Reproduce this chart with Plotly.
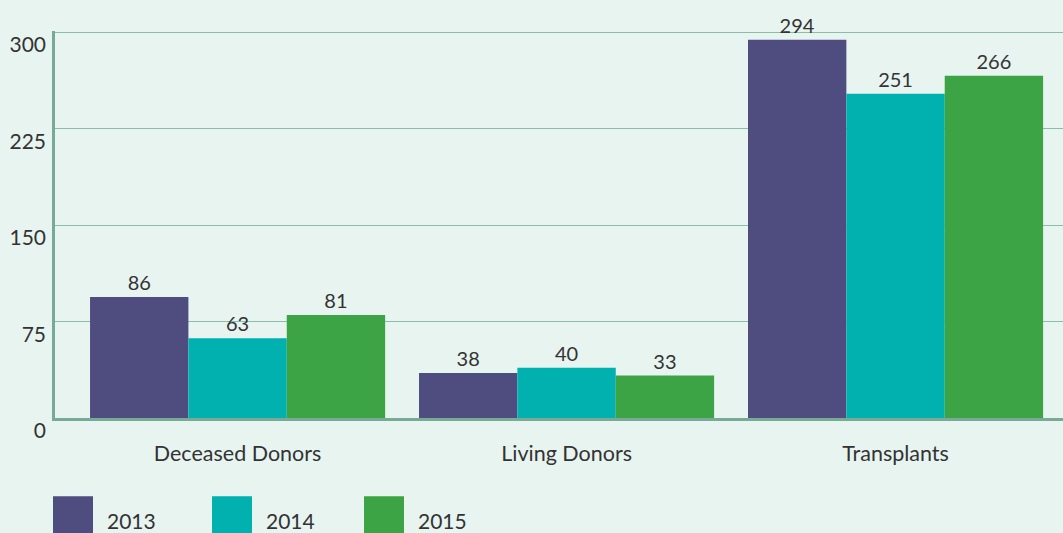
import plotly.graph_objects as go

categories = ["Deceased Donors", "Living Donors", "Transplants"]
years = ["2013", "2014", "2015"]
# bar heights as drawn in the picture
heights_2013 = [94, 35, 294]
heights_2014 = [62, 39, 252]
heights_2015 = [80, 33, 266]
# value labels as printed above the bars
labels_2013 = ["86", "38", "294"]
labels_2014 = ["63", "40", "251"]
labels_2015 = ["81", "33", "266"]
y_ticks = [0, 75, 150, 225, 300]

colors = ["#4f4c80", "#00b1af", "#3ca445"]
heights = [heights_2013, heights_2014, heights_2015]
labels = [labels_2013, labels_2014, labels_2015]

FONT = "Lato, 'Noto Sans', sans-serif"
TXT = "#333333"

fig = go.Figure()
for yr, h, lab, c in zip(years, heights, labels, colors):
    fig.add_trace(go.Bar(
        x=categories, y=h, name=yr, marker_color=c, marker_line_width=0,
        text=lab, textposition="outside", cliponaxis=False,
        textfont=dict(size=20, color=TXT, family=FONT),
        showlegend=False,
    ))

# custom legend (large squares at bottom)
leg_x = [53, 212, 364]
for yr, c, px in zip(years, colors, leg_x):
    x0 = (px - 55) / 1008
    x1 = (px + 40 - 55) / 1008
    fig.add_shape(type="rect", xref="paper", yref="paper",
                  x0=x0, x1=x1, y0=(418 - 496) / 386, y1=(418 - 545) / 386,
                  fillcolor=c, line_width=0)
    fig.add_annotation(xref="paper", yref="paper", x=(px + 52 - 55) / 1008,
                       y=(418 - 520) / 386, text=yr, showarrow=False,
                       xanchor="left", yanchor="middle",
                       font=dict(size=21, color=TXT, family=FONT))

fig.update_layout(
    width=1063, height=533,
    margin=dict(l=55, r=0, t=31, b=115),
    paper_bgcolor="#e8f4f0", plot_bgcolor="#e8f4f0",
    barmode="group", bargap=0.103, bargroupgap=0,
    font=dict(family=FONT, color=TXT, size=21),
)
fig.update_xaxes(
    range=[-0.555, 2.509], showgrid=False, showline=True,
    linecolor="#78aa98", linewidth=3, ticks="",
    tickfont=dict(size=21.5, color=TXT, family=FONT),
    ticklabelstandoff=14,
)
fig.update_yaxes(
    range=[0, 300.8], tickvals=y_ticks, showgrid=True, gridcolor="#86c0a9",
    gridwidth=1, zeroline=False, showline=True, linecolor="#78aa98",
    linewidth=2.5, ticks="", ticklabelshift=13, ticklabelstandoff=2,
    tickfont=dict(size=21, color=TXT, family=FONT),
)

fig.write_html("out.html", config={"displayModeBar": False},
               post_script="document.body.style.margin='0';document.body.style.padding='0';")
